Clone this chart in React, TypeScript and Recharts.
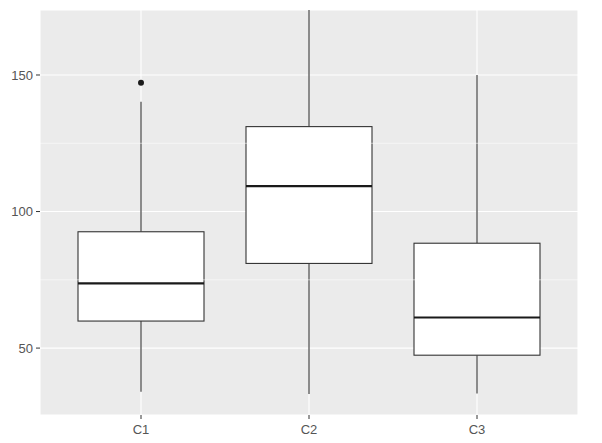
import { ComposedChart, Bar, Scatter, XAxis, YAxis, CartesianGrid, ReferenceLine } from 'recharts'

const categories = ['C1', 'C2', 'C3']
const mins = [34.0, 33.2, 33.4]
const q1s = [59.9, 81.0, 47.4]
const medians = [73.7, 109.3, 61.2]
const q3s = [92.6, 131.1, 88.4]
const maxs = [140.2, 173.8, 150.0]
const outliers = [147.2, null, null]
const yTicks = [50, 100, 150]
const minorTicks = [75, 125]

const data = categories.map((name, i) => ({
  name,
  range: [mins[i], maxs[i]],
  min: mins[i],
  q1: q1s[i],
  median: medians[i],
  q3: q3s[i],
  max: maxs[i],
  outlier: outliers[i],
}))

// draws the box + whiskers, reading pixel positions off the range bar that recharts hands us
function BoxShape(props: any) {
  const { x, y, width, height, payload } = props
  if (payload == null || height == null) return null
  const top = Math.min(y, y + height)
  const bottom = Math.max(y, y + height)
  const ppu = (bottom - top) / (payload.max - payload.min)
  const pix = (v: number) => bottom - (v - payload.min) * ppu
  const cx = x + width / 2
  return (
    <g>
      <line x1={cx} x2={cx} y1={pix(payload.max)} y2={pix(payload.q3)} stroke="#333333" strokeWidth={1.1} />
      <line x1={cx} x2={cx} y1={pix(payload.q1)} y2={pix(payload.min)} stroke="#333333" strokeWidth={1.1} />
      <rect
        x={x}
        y={pix(payload.q3)}
        width={width}
        height={pix(payload.q1) - pix(payload.q3)}
        fill="#ffffff"
        stroke="#333333"
        strokeWidth={1.1}
      />
      <line x1={x} x2={x + width} y1={pix(payload.median)} y2={pix(payload.median)} stroke="#1a1a1a" strokeWidth={2.2} />
    </g>
  )
}

function OutlierDot(p: any) {
  if (p.payload == null || p.payload.outlier == null || !Number.isFinite(p.cy)) return null
  return <circle cx={p.cx} cy={p.cy} r={3} fill="#1a1a1a" />
}

export default function App() {
  const tickStyle = { fill: '#555555', fontSize: 13, fontFamily: 'Liberation Sans, Arial, sans-serif' }
  return (
    <div style={{ margin: -8, background: '#ffffff', width: 602, height: 443 }}>
      <ComposedChart width={602} height={443} data={data} margin={{ top: 10, right: 24, bottom: 0, left: 0 }}>
        <CartesianGrid fill="#ebebeb" stroke="#ffffff" strokeWidth={1.1} />
        {minorTicks.map((v) => (
          <ReferenceLine key={v} y={v} stroke="#ffffff" strokeWidth={0.55} />
        ))}
        <XAxis
          dataKey="name"
          padding={{ left: 17, right: 17 }}
          height={28}
          axisLine={false}
          tickLine={{ stroke: '#333333' }}
          tickSize={4}
          tickMargin={6}
          tick={tickStyle}
        />
        <YAxis
          type="number"
          domain={[25.5, 173.8]}
          allowDataOverflow
          ticks={yTicks}
          width={40}
          axisLine={false}
          tickLine={{ stroke: '#333333' }}
          tickSize={4}
          tickMargin={3}
          tick={tickStyle}
        />
        <Bar dataKey="range" barSize={126} shape={<BoxShape />} isAnimationActive={false} />
        <Scatter dataKey="outlier" fill="#1a1a1a" shape={<OutlierDot />} isAnimationActive={false} />
      </ComposedChart>
    </div>
  )
}
